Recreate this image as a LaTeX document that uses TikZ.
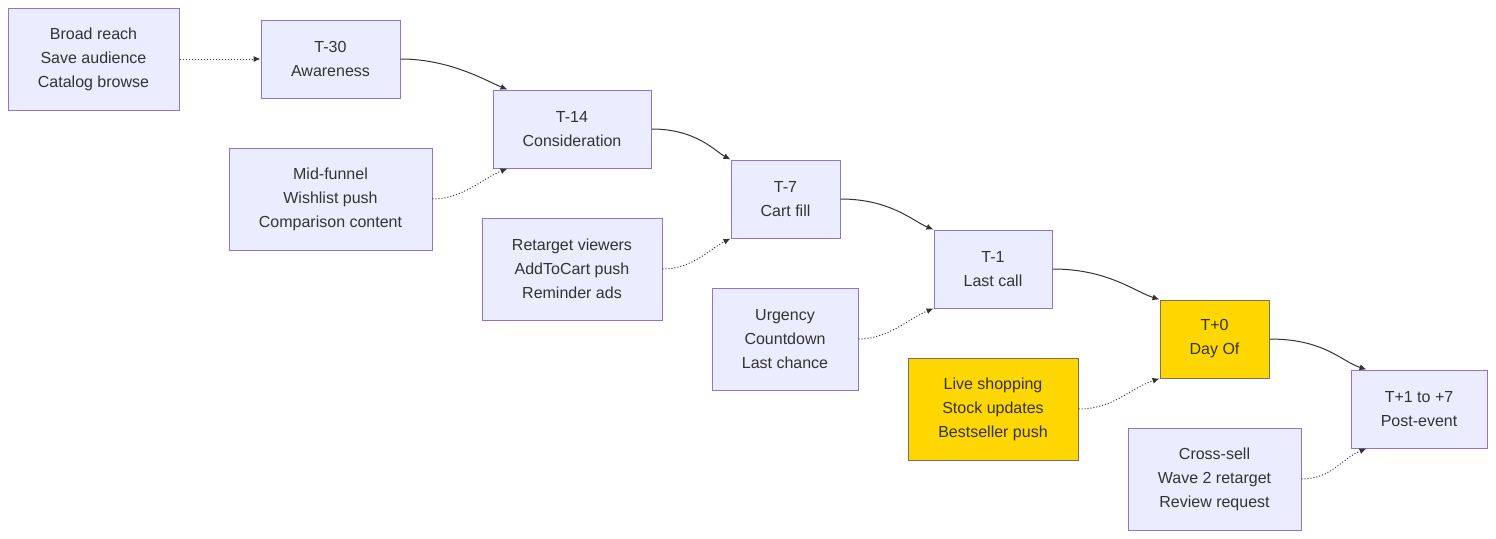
\documentclass[tikz,border=0pt]{standalone}
\usepackage{fontspec}
\setmainfont{Liberation Sans}
\usetikzlibrary{arrows.meta}
\definecolor{boxfill}{HTML}{ECECFF}
\definecolor{boxline}{HTML}{9370DB}
\definecolor{gold}{HTML}{FFD700}
\definecolor{txt}{HTML}{333333}
\tikzset{
  stage/.style={draw=boxline,fill=boxfill,line width=1pt,align=center,text=txt,
    font=\fontsize{16}{24}\selectfont,inner sep=0pt},
  hot/.style={fill=gold,draw=boxline!60!gold!70!black},
  flow/.style={draw=txt,line width=1pt,-{Latex[length=7pt,width=6pt]}},
  tactic/.style={flow,dotted}
}
\begin{document}
\begin{tikzpicture}[x=1pt,y=-1pt]
		\useasboundingbox (0,0) rectangle (1496,538);
		\node[stage,minimum width=171pt,minimum height=102pt] (reach) at (93.5,59) {Broad reach\\Save audience\\Catalog browse};
		\node[stage,minimum width=139pt,minimum height=78pt] (t30) at (330.5,59) {T-30\\Awareness};
		\node[stage,minimum width=158pt,minimum height=78pt] (t14) at (572,129) {T-14\\Consideration};
		\node[stage,minimum width=203pt,minimum height=102pt] (mid) at (330.5,199) {Mid-funnel\\Wishlist push\\Comparison content};
		\node[stage,minimum width=109pt,minimum height=78pt] (t7) at (785.5,199) {T-7\\Cart fill};
		\node[stage,minimum width=180pt,minimum height=102pt] (retarget) at (572,269) {Retarget viewers\\AddToCart push\\Reminder ads};
		\node[stage,minimum width=118pt,minimum height=78pt] (t1) at (993,269) {T-1\\Last call};
		\node[stage,minimum width=146pt,minimum height=102pt] (urgency) at (785,339) {Urgency\\Countdown\\Last chance};
		\node[stage,hot,minimum width=109pt,minimum height=78pt] (t0) at (1214.5,339) {T+0\\Day Of};
		\node[stage,hot,minimum width=170pt,minimum height=102pt] (live) at (993,409) {Live shopping\\Stock updates\\Bestseller push};
		\node[stage,minimum width=136pt,minimum height=78pt] (post) at (1419,409) {T+1 to +7\\Post-event};
		\node[stage,minimum width=173pt,minimum height=102pt] (cross) at (1214.5,479) {Cross-sell\\Wave 2 retarget\\Review request};
		% main timeline
		\draw[tactic] (reach) -- (t30);
		\draw[flow] (t30.east) .. controls +(50,0) and +(-20,-8) .. ([xshift=15pt]t14.north west);
		\draw[flow] (t14.east) .. controls +(45,0) and +(-15,-8) .. (t7.north west);
		\draw[flow] (t7.east) .. controls +(50,0) and +(-20,-8) .. (t1.north west);
		\draw[flow] (t1.east) .. controls +(55,0) and +(-25,-8) .. (t0.north west);
		\draw[flow] (t0.east) .. controls +(55,0) and +(-25,-8) .. ([xshift=16pt]post.north west);
		% tactics
		\draw[tactic] (mid.east) .. controls +(30,0) and +(-25,10) .. ([xshift=15pt]t14.south west);
		\draw[tactic] (retarget.east) .. controls +(30,0) and +(-20,10) .. (t7.south west);
		\draw[tactic] (urgency.east) .. controls +(30,0) and +(-25,10) .. (t1.south west);
		\draw[tactic] (live.east) .. controls +(35,0) and +(-30,10) .. (t0.south west);
		\draw[tactic] (cross.east) .. controls +(30,0) and +(-25,10) .. ([xshift=16pt]post.south west);
	\end{tikzpicture}
\end{document}
